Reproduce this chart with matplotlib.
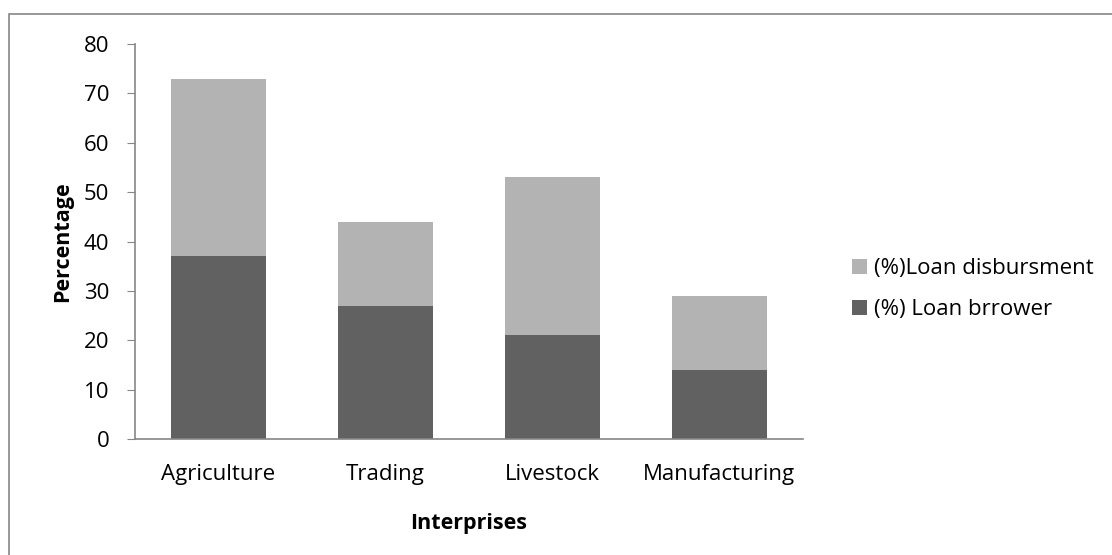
import matplotlib
matplotlib.use("Agg")
import matplotlib.pyplot as plt
from matplotlib.patches import Rectangle

categories = ["Agriculture", "Trading", "Livestock", "Manufacturing"]
loan_borrower = [37, 27, 21, 14]
loan_disbursment = [36, 17, 32, 15]
y_ticks = [0, 10, 20, 30, 40, 50, 60, 70, 80]

plt.rcParams['font.family'] = ['Open Sans', 'DejaVu Sans']

fig = plt.figure(figsize=(11.12, 5.55), dpi=100)
ax = fig.add_axes([0.1214, 0.209, 0.6006, 0.7117])

x = list(range(len(categories)))
w = 0.57
b1 = ax.bar(x, loan_borrower, width=w, color="#616161", label="(%) Loan brrower", zorder=2)
b2 = ax.bar(x, loan_disbursment, width=w, bottom=loan_borrower, color="#b3b3b3",
            label="(%)Loan disbursment", zorder=2)

ax.set_xlim(-0.5, len(categories) - 0.5)
ax.set_ylim(0, 80)
ax.set_yticks(y_ticks)
ax.set_xticks(x)
ax.set_xticklabels(categories)
for s in ["top", "right"]:
    ax.spines[s].set_visible(False)
for s in ["left", "bottom"]:
    ax.spines[s].set_color("#868686")
    ax.spines[s].set_linewidth(1.2)
ax.tick_params(axis="y", length=6, color="#868686", labelsize=16, pad=12.5)
ax.tick_params(axis="x", length=0, labelsize=16, pad=18)
ax.set_ylabel("Percentage", fontsize=15.5, fontweight="bold", labelpad=8)
ax.set_xlabel("Interprises", fontsize=15.5, fontweight="bold", labelpad=20)

leg = fig.legend(handles=[b2, b1], labels=["(%)Loan disbursment", "(%) Loan brrower"],
                 loc="center left", bbox_to_anchor=(0.748, 0.479), frameon=False,
                 fontsize=16, handlelength=0.7, handleheight=0.7, handletextpad=0.3,
                 labelspacing=0.9)

fig.patches.append(Rectangle((9 / 1112, -0.05), 1.2, 1 - 14 / 555 + 0.05,
                             transform=fig.transFigure, fill=False,
                             edgecolor="#868686", linewidth=1.2))

fig.savefig("out.png", dpi=100)
